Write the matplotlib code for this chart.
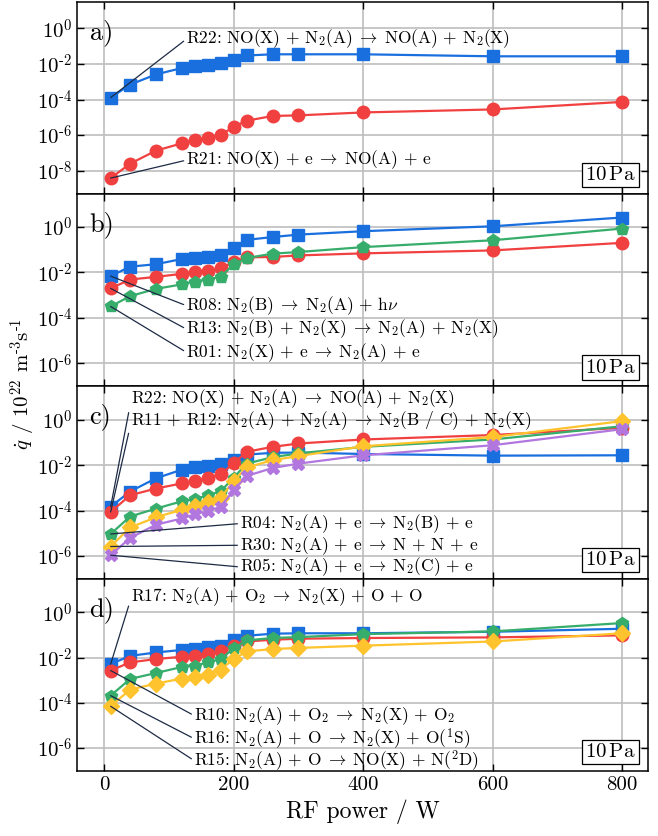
import numpy as np
import matplotlib
matplotlib.use("Agg")
import matplotlib.pyplot as plt

plt.rcParams['font.family'] = 'serif'
plt.rcParams['font.serif'] = ['cmr10']
plt.rcParams['mathtext.fontset'] = 'cm'
plt.rcParams['axes.unicode_minus'] = False

# RF power / W
power = [10, 40, 80, 120, 140, 160, 180, 200, 220, 260, 300, 400, 600, 800]

# panel a
a_r22 = [1.3e-4, 6.9e-4, 2.6e-3, 5.9e-3, 7.6e-3, 8.6e-3, 1.2e-2, 1.6e-2, 3.0e-2, 3.5e-2, 3.5e-2, 3.5e-2, 2.7e-2, 2.7e-2]
a_r21 = [3.9e-9, 2.5e-8, 1.36e-7, 3.5e-7, 5.4e-7, 7.2e-7, 1.0e-6, 3.0e-6, 6.5e-6, 1.2e-5, 1.3e-5, 1.9e-5, 2.8e-5, 7.4e-5]

# panel b
b_r08 = [6.9e-3, 1.8e-2, 2.3e-2, 3.9e-2, 4.3e-2, 4.9e-2, 5.8e-2, 0.12, 0.27, 0.36, 0.46, 0.65, 1.07, 2.6]
b_r13 = [2.0e-3, 4.9e-3, 6.4e-3, 8.7e-3, 1.07e-2, 1.2e-2, 1.5e-2, 2.9e-2, 4.6e-2, 4.8e-2, 5.6e-2, 6.9e-2, 9.3e-2, 0.20]
b_r01 = [3.2e-4, 9.1e-4, 1.9e-3, 3.0e-3, 4.0e-3, 4.9e-3, 6.4e-3, 2.3e-2, 4.3e-2, 6.7e-2, 7.9e-2, 0.13, 0.26, 0.85]

# panel c
c_r22 = [1.5e-4, 7.0e-4, 2.7e-3, 6.5e-3, 8.1e-3, 9.3e-3, 1.2e-2, 1.7e-2, 3.0e-2, 3.6e-2, 3.7e-2, 3.2e-2, 2.7e-2, 2.8e-2]
c_r1112 = [8.7e-5, 4.8e-4, 9.5e-4, 1.6e-3, 2.0e-3, 2.8e-3, 4.0e-3, 1.25e-2, 4.0e-2, 6.6e-2, 9.3e-2, 0.14, 0.22, 0.46]
c_r04 = [9.3e-6, 5.5e-5, 1.23e-4, 2.6e-4, 3.2e-4, 4.8e-4, 7.2e-4, 2.9e-3, 1.2e-2, 2.3e-2, 3.4e-2, 6.6e-2, 0.14, 0.54]
c_r30 = [2.6e-6, 1.8e-5, 5.1e-5, 1.1e-4, 1.6e-4, 2.3e-4, 3.6e-4, 2.1e-3, 8.1e-3, 1.7e-2, 2.6e-2, 7.0e-2, 0.18, 0.91]
c_r05 = [1.07e-6, 6.2e-6, 2.4e-5, 4.5e-5, 6.9e-5, 9.4e-5, 1.5e-4, 8.0e-4, 3.4e-3, 7.7e-3, 1.2e-2, 2.8e-2, 7.8e-2, 0.40]

# panel d
d_r17 = [5.2e-3, 1.2e-2, 1.7e-2, 2.2e-2, 2.5e-2, 3.0e-2, 3.4e-2, 6.2e-2, 9.3e-2, 0.115, 0.12, 0.12, 0.14, 0.19]
d_r10 = [2.7e-3, 6.2e-3, 8.7e-3, 1.1e-2, 1.2e-2, 1.5e-2, 1.9e-2, 3.2e-2, 5.2e-2, 6.2e-2, 6.9e-2, 7.4e-2, 7.9e-2, 9.7e-2]
d_r16 = [2.1e-4, 1.15e-3, 2.1e-3, 3.9e-3, 4.5e-3, 6.2e-3, 8.7e-3, 2.6e-2, 5.8e-2, 7.4e-2, 8.1e-2, 0.11, 0.145, 0.34]
d_r15 = [7.1e-5, 3.9e-4, 7.1e-4, 1.2e-3, 1.4e-3, 1.8e-3, 3.0e-3, 8.7e-3, 1.9e-2, 2.4e-2, 2.7e-2, 3.4e-2, 5.2e-2, 0.12]

BLUE = '#1a6fdf'
RED = '#f14040'
GREEN = '#37ad6b'
YELLOW = '#fec32d'
PURPLE = '#b177de'
LINE = '#1d2b45'

AR = r'$\;\rightarrow\;$'

# (values, color, marker, label text, text x, text y)
panels = [
    ('a)', (10**-9.3, 10**1.5), [0, -2, -4, -6, -8], [
        (a_r22, BLUE, 's', r'R22: NO(X) + N$_2$(A)' + AR + r'NO(A) + N$_2$(X)', 127, 10**-0.6),
        (a_r21, RED, 'o', r'R21: NO(X) + e' + AR + r'NO(A) + e', 127, 10**-7.4),
    ]),
    ('b)', (1e-7, 10**1.45), [0, -2, -4, -6], [
        (b_r08, BLUE, 's', r'R08: N$_2$(B)' + AR + r'N$_2$(A) + h$\nu$', 127, 10**-3.46),
        (b_r13, RED, 'o', r'R13: N$_2$(B) + N$_2$(X)' + AR + r'N$_2$(A) + N$_2$(X)', 127, 10**-4.49),
        (b_r01, GREEN, 'p', r'R01: N$_2$(X) + e' + AR + r'N$_2$(A) + e', 127, 10**-5.51),
    ]),
    ('c)', (1e-7, 10**1.5), [0, -2, -4, -6], [
        (c_r22, BLUE, 's', r'R22: NO(X) + N$_2$(A)' + AR + r'NO(A) + N$_2$(X)', 42, 10**0.96),
        (c_r1112, RED, 'o', r'R11 + R12: N$_2$(A) + N$_2$(A)' + AR + r'N$_2$(B / C) + N$_2$(X)', 42, 10**-0.04),
        (c_r04, GREEN, 'p', r'R04: N$_2$(A) + e' + AR + r'N$_2$(B) + e', 210, 10**-4.57),
        (c_r30, YELLOW, 'D', r'R30: N$_2$(A) + e' + AR + r'N + N + e', 210, 10**-5.53),
        (c_r05, PURPLE, 'X', r'R05: N$_2$(A) + e' + AR + r'N$_2$(C) + e', 210, 10**-6.49),
    ]),
    ('d)', (1e-7, 10**1.5), [0, -2, -4, -6], [
        (d_r17, BLUE, 's', r'R17: N$_2$(A) + O$_2$' + AR + r'N$_2$(X) + O + O', 42, 10**0.68),
        (d_r10, RED, 'o', r'R10: N$_2$(A) + O$_2$' + AR + r'N$_2$(X) + O$_2$', 139, 10**-4.56),
        (d_r16, GREEN, 'p', r'R16: N$_2$(A) + O' + AR + r'N$_2$(X) + O($^1$S)', 139, 10**-5.58),
        (d_r15, YELLOW, 'D', r'R15: N$_2$(A) + O' + AR + r'NO(X) + N($^2$D)', 139, 10**-6.55),
    ]),
]

fig, axes = plt.subplots(4, 1, figsize=(6.58, 8.36), dpi=100, sharex=True)
fig.subplots_adjust(left=0.117, right=0.985, top=0.998, bottom=0.078, hspace=0)

for ax, (tag, ylim, exps, series) in zip(axes, panels):
    ax.set_yscale('log')
    for vals, col, mk, txt, tx, ty in series:
        ms = 9 if mk in ('s', 'o', 'p') else 8
        ax.plot(power, vals, color=col, marker=mk, ms=ms, lw=1.6, zorder=3)
        ax.annotate(txt, xy=(power[0], vals[0]), xytext=(tx, ty),
                    fontsize=12.5, ha='left', va='center', zorder=4,
                    arrowprops=dict(arrowstyle='-', color=LINE, lw=0.9,
                                    shrinkA=0, shrinkB=0, relpos=(0, 0.5)))
    ax.set_ylim(*ylim)
    ax.set_xlim(-42, 840)
    ax.set_yticks([10.0**e for e in exps])
    ax.set_yticklabels([r'10$^{\text{%d}}$' % e for e in exps])
    ax.minorticks_off()
    ax.set_xticks([0, 200, 400, 600, 800])
    ax.grid(True, color='#bdbdbd', lw=1.2, zorder=0)
    ax.set_axisbelow(True)
    ax.tick_params(direction='in', top=True, right=True, length=5, width=1,
                   labelsize=15)
    for sp in ax.spines.values():
        sp.set_linewidth(1.1)
    ax.text(0.022, 0.91, tag, transform=ax.transAxes, fontsize=19,
            ha='left', va='top', zorder=5)
    ax.text(0.978, 0.05, r'10$\,$Pa', transform=ax.transAxes, fontsize=15,
            ha='right', va='bottom', zorder=5,
            bbox=dict(boxstyle='square,pad=0.15', fc='white', ec='black', lw=0.9))

axes[-1].set_xlabel('RF power / W', fontsize=17)
fig.text(0.036, 0.541, r'$\dot{q}$ / 10$^{22}$ m$^{\text{-3}}$s$^{\text{-1}}$', rotation=90,
         fontsize=15, ha='center', va='center')

fig.savefig('out.png', dpi=100)
